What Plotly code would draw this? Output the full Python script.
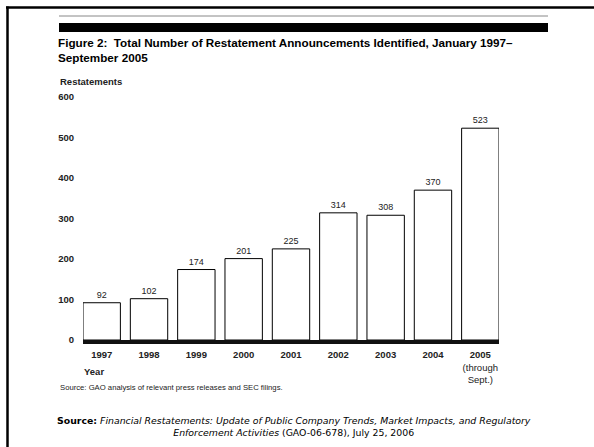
import plotly.graph_objects as go

years = ["1997", "1998", "1999", "2000", "2001", "2002", "2003", "2004", "2005"]
tick_labels = ["<b>1997</b>", "<b>1998</b>", "<b>1999</b>", "<b>2000</b>", "<b>2001</b>",
               "<b>2002</b>", "<b>2003</b>", "<b>2004</b>", "<b>2005</b><br>(through<br>Sept.)"]
restatements = [92, 102, 174, 201, 225, 314, 308, 370, 523]
y_ticks = [0, 100, 200, 300, 400, 500, 600]

W, H = 594, 447
L, R, T, B = 83, 499, 97, 340
FONT = "Liberation Sans, Arial, sans-serif"


def px(x):
    return (x - L) / (R - L)


def py(y):
    return (B - y) / (B - T)


fig = go.Figure()
fig.add_trace(go.Bar(
    x=years, y=restatements,
    marker=dict(color="white", line=dict(color="black", width=1)),
    text=[str(v) for v in restatements], textposition="outside",
    textfont=dict(family=FONT, size=9, color="#222"),
    cliponaxis=False, width=0.79,
))

annotations = [
    dict(text="<b>Figure 2:  Total Number of Restatement Announcements Identified, January 1997–<br>September 2005</b>",
         x=px(56), y=py(34), xanchor="left", yanchor="top", align="left",
         font=dict(family=FONT, size=11.7, color="black")),
    dict(text="<b>Restatements</b>", x=px(58), y=py(81), xanchor="left", yanchor="middle",
         font=dict(family=FONT, size=9.5, color="#222")),
    dict(text="<b>Year</b>", x=px(82), y=py(371), xanchor="left", yanchor="middle",
         font=dict(family=FONT, size=9.5, color="#222")),
    dict(text="Source: GAO analysis of relevant press releases and SEC filings.",
         x=px(58), y=py(387), xanchor="left", yanchor="middle",
         font=dict(family=FONT, size=7.7, color="#222")),
    dict(text="<b>Source:</b> <i>Financial Restatements: Update of Public Company Trends, Market Impacts, and Regulatory</i><br>"
              "<i>Enforcement Activities</i> (GAO-06-678), July 25, 2006",
         x=px(294), y=py(426), xanchor="center", yanchor="middle", align="center",
         font=dict(family="DejaVu Sans, Verdana, sans-serif", size=9.35, color="black")),
]
for a in annotations:
    a.update(xref="paper", yref="paper", showarrow=False)

shapes = [
    dict(type="line", xref="paper", yref="paper", x0=px(6), x1=px(594), y0=py(7.5), y1=py(7.5),
         line=dict(color="black", width=2.5)),
    dict(type="line", xref="paper", yref="paper", x0=px(7.5), x1=px(7.5), y0=py(6.5), y1=py(447),
         line=dict(color="black", width=2.5)),
    dict(type="line", xref="paper", yref="paper", x0=px(59), x1=px(548), y0=py(16), y1=py(16),
         line=dict(color="#888", width=1)),
    dict(type="rect", xref="paper", yref="paper", x0=px(59), x1=px(548), y0=py(23), y1=py(32),
         fillcolor="black", line=dict(width=0)),
]

fig.update_layout(
    width=W, height=H,
    margin=dict(l=L, r=W - R, t=T, b=H - B, pad=0),
    paper_bgcolor="white", plot_bgcolor="white",
    showlegend=False,
    annotations=annotations, shapes=shapes,
    xaxis=dict(type="category", range=[-0.395, 8.395], tickvals=years, ticktext=tick_labels,
               showline=True, linecolor="#111", linewidth=3.5, ticks="", showgrid=False,
               ticklabelstandoff=3,
               tickfont=dict(family=FONT, size=9.5, color="#222"), fixedrange=True),
    yaxis=dict(range=[0, 600], tickvals=y_ticks, showgrid=False, zeroline=False, ticks="",
               showline=False, ticklabelstandoff=8,
               tickfont=dict(family=FONT, size=9.5, color="#222", weight="bold"), fixedrange=True),
)

fig.write_html("out.html")
